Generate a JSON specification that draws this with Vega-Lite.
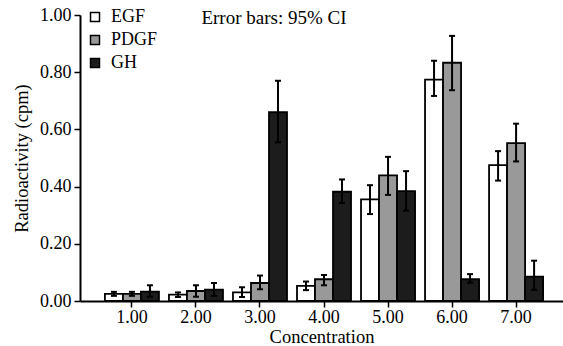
{
  "$schema": "https://vega.github.io/schema/vega-lite/v6.json",
  "width": 483,
  "height": 286,
  "autosize": {"type": "none"},
  "padding": {"left": 80, "top": 15, "right": 0, "bottom": 45},
  "background": "white",
  "config": {
    "view": {"stroke": null},
    "font": "Times New Roman, Liberation Serif, serif",
    "axis": {
      "labelFont": "Times New Roman, Liberation Serif, serif",
      "titleFont": "Times New Roman, Liberation Serif, serif",
      "labelColor": "black",
      "titleColor": "black",
      "domainColor": "black",
      "tickColor": "black",
      "labelFontSize": 18,
      "titleFontSize": 18.5,
      "titleFontWeight": "normal",
      "domainWidth": 2,
      "tickWidth": 1.5,
      "grid": false
    },
    "legend": {
      "labelFont": "Times New Roman, Liberation Serif, serif",
      "labelFontSize": 18,
      "labelColor": "black"
    }
  },
  "datasets": {
    "bars": [
      {"conc": "1.00", "series": "EGF", "value": 0.025, "lo": 0.018, "hi": 0.032},
      {"conc": "1.00", "series": "PDGF", "value": 0.025, "lo": 0.018, "hi": 0.032},
      {"conc": "1.00", "series": "GH", "value": 0.033, "lo": 0.015, "hi": 0.055},
      {"conc": "2.00", "series": "EGF", "value": 0.022, "lo": 0.014, "hi": 0.030},
      {"conc": "2.00", "series": "PDGF", "value": 0.035, "lo": 0.015, "hi": 0.055},
      {"conc": "2.00", "series": "GH", "value": 0.040, "lo": 0.018, "hi": 0.063},
      {"conc": "3.00", "series": "EGF", "value": 0.030, "lo": 0.014, "hi": 0.048},
      {"conc": "3.00", "series": "PDGF", "value": 0.063, "lo": 0.041, "hi": 0.089},
      {"conc": "3.00", "series": "GH", "value": 0.660, "lo": 0.555, "hi": 0.770},
      {"conc": "4.00", "series": "EGF", "value": 0.053, "lo": 0.038, "hi": 0.068},
      {"conc": "4.00", "series": "PDGF", "value": 0.076, "lo": 0.055, "hi": 0.091},
      {"conc": "4.00", "series": "GH", "value": 0.382, "lo": 0.343, "hi": 0.425},
      {"conc": "5.00", "series": "EGF", "value": 0.355, "lo": 0.304, "hi": 0.405},
      {"conc": "5.00", "series": "PDGF", "value": 0.439, "lo": 0.371, "hi": 0.504},
      {"conc": "5.00", "series": "GH", "value": 0.384, "lo": 0.316, "hi": 0.454},
      {"conc": "6.00", "series": "EGF", "value": 0.774, "lo": 0.717, "hi": 0.840},
      {"conc": "6.00", "series": "PDGF", "value": 0.833, "lo": 0.737, "hi": 0.927},
      {"conc": "6.00", "series": "GH", "value": 0.076, "lo": 0.064, "hi": 0.094},
      {"conc": "7.00", "series": "EGF", "value": 0.475, "lo": 0.421, "hi": 0.524},
      {"conc": "7.00", "series": "PDGF", "value": 0.552, "lo": 0.488, "hi": 0.620},
      {"conc": "7.00", "series": "GH", "value": 0.085, "lo": 0.039, "hi": 0.141}
    ],
    "note": [
      {"conc": "3.00", "label": "Error bars: 95% CI", "value": 0.988}
    ]
  },
  "layer": [
    {
      "data": {"name": "bars"},
      "mark": {"type": "bar", "stroke": "black", "strokeWidth": 1.8},
      "encoding": {
        "x": {
          "field": "conc", "type": "nominal",
          "scale": {"paddingInner": 0.156, "paddingOuter": 0.35, "align": 0.556},
          "axis": {"title": "Concentration", "labelAngle": 0, "tickSize": 6, "labelPadding": 1, "titlePadding": 1}
        },
        "xOffset": {"field": "series", "type": "nominal", "sort": ["EGF", "PDGF", "GH"], "scale": {"paddingInner": 0, "paddingOuter": 0}},
        "y": {
          "field": "value", "type": "quantitative",
          "scale": {"domain": [0, 1]},
          "axis": {"title": "Radioactivity (cpm)", "values": [0, 0.2, 0.4, 0.6, 0.8, 1.0], "format": ".2f", "tickSize": 6, "labelPadding": 3, "titlePadding": 8}
        },
        "fill": {
          "field": "series", "type": "nominal",
          "scale": {"domain": ["EGF", "PDGF", "GH"], "range": ["#ffffff", "#999999", "#1c1c1c"]},
          "legend": {
            "title": null, "orient": "none", "legendX": 6, "legendY": -7,
            "symbolType": "square", "symbolSize": 81, "symbolStrokeColor": "black", "symbolStrokeWidth": 1.5,
            "symbolOpacity": 1, "rowPadding": 5, "labelOffset": 7, "padding": 0
          }
        }
      }
    },
    {
      "data": {"name": "bars"},
      "mark": {"type": "rule", "color": "black", "strokeWidth": 2},
      "encoding": {
        "x": {"field": "conc", "type": "nominal"},
        "xOffset": {"field": "series", "type": "nominal", "sort": ["EGF", "PDGF", "GH"]},
        "y": {"field": "lo", "type": "quantitative", "title": "Radioactivity (cpm)"},
        "y2": {"field": "hi"}
      }
    },
    {
      "data": {"name": "bars"},
      "mark": {"type": "tick", "color": "black", "size": 6, "thickness": 2, "opacity": 1},
      "encoding": {
        "x": {"field": "conc", "type": "nominal"},
        "xOffset": {"field": "series", "type": "nominal", "sort": ["EGF", "PDGF", "GH"]},
        "y": {"field": "lo", "type": "quantitative", "title": "Radioactivity (cpm)"}
      }
    },
    {
      "data": {"name": "bars"},
      "mark": {"type": "tick", "color": "black", "size": 6, "thickness": 2, "opacity": 1},
      "encoding": {
        "x": {"field": "conc", "type": "nominal"},
        "xOffset": {"field": "series", "type": "nominal", "sort": ["EGF", "PDGF", "GH"]},
        "y": {"field": "hi", "type": "quantitative", "title": "Radioactivity (cpm)"}
      }
    },
    {
      "data": {"name": "note"},
      "mark": {"type": "text", "font": "Times New Roman, Liberation Serif, serif", "fontSize": 19, "color": "black", "align": "center", "baseline": "middle", "dx": 14},
      "encoding": {
        "x": {"field": "conc", "type": "nominal"},
        "y": {"field": "value", "type": "quantitative", "title": "Radioactivity (cpm)"},
        "text": {"field": "label"}
      }
    }
  ]
}
